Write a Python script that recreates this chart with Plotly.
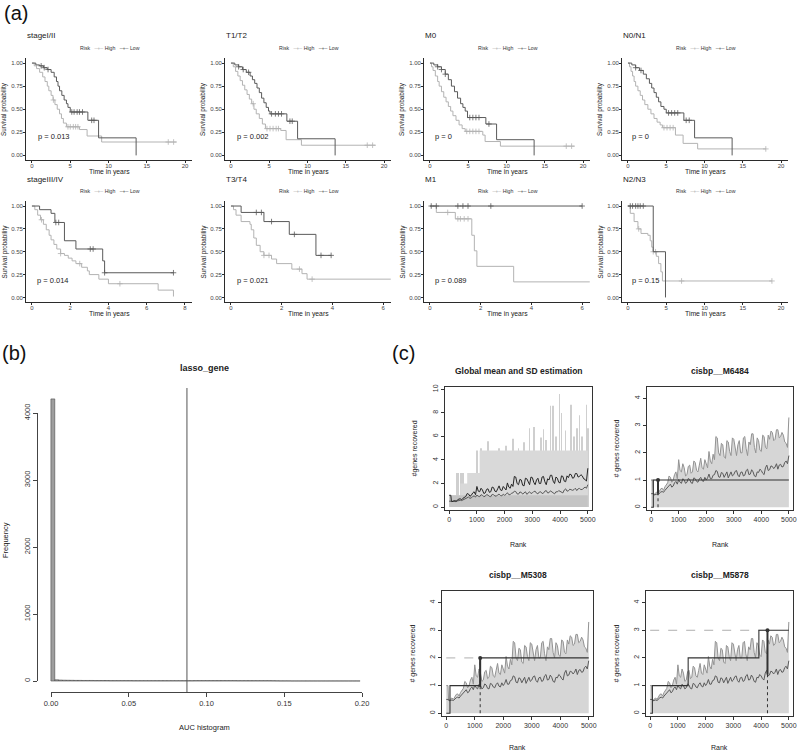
import numpy as np
import plotly.graph_objects as go

W, H = 800, 751
FONT = "Liberation Sans, Arial, Helvetica, sans-serif"
HIGH_C = "#b3b3b3"
LOW_C = "#5a5a5a"
AX_C = "#2b2b2b"

# ------------------------------------------------------------------ (a) KM data
stage12_high_t = [0, 0.3, 0.6, 1.0, 1.4, 1.7, 2.0, 2.2, 2.5, 2.75, 3.0, 3.3, 3.6, 3.85, 4.1, 4.5, 6.2, 7.2, 9.1, 18.9]
stage12_high_s = [1.0, 0.97, 0.94, 0.90, 0.85, 0.80, 0.75, 0.70, 0.65, 0.60, 0.55, 0.50, 0.45, 0.40, 0.35, 0.31, 0.28, 0.21, 0.145, 0.145]
stage12_low_t = [0, 0.5, 1.0, 1.5, 2.0, 2.5, 2.9, 3.2, 3.4, 3.6, 3.9, 4.2, 4.5, 4.7, 5.0, 7.3, 8.7, 13.6]
stage12_low_s = [1.0, 0.98, 0.97, 0.95, 0.93, 0.90, 0.85, 0.80, 0.75, 0.70, 0.65, 0.60, 0.56, 0.52, 0.47, 0.38, 0.19, 0.0]
stage12_high_cens = [2.8, 4.7, 5.0, 5.4, 5.7, 6.0, 17.8, 18.5]
stage12_low_cens = [1.2, 1.6, 2.1, 5.2, 5.5, 5.9, 6.2, 6.6, 7.8, 8.1]

t12_high_t = [0, 0.3, 0.6, 0.9, 1.2, 1.5, 1.8, 2.1, 2.4, 2.7, 3.0, 3.3, 3.7, 4.1, 4.5, 6.5, 7.2, 9.2, 18.9]
t12_high_s = [1.0, 0.96, 0.91, 0.86, 0.81, 0.76, 0.71, 0.66, 0.61, 0.56, 0.50, 0.45, 0.40, 0.34, 0.29, 0.27, 0.17, 0.11, 0.11]
t12_low_t = [0, 0.5, 1.0, 1.5, 2.0, 2.5, 2.8, 3.1, 3.4, 3.7, 4.0, 4.3, 4.6, 4.9, 5.1, 7.3, 8.7, 13.6]
t12_low_s = [1.0, 0.98, 0.96, 0.93, 0.90, 0.86, 0.82, 0.78, 0.73, 0.68, 0.62, 0.57, 0.52, 0.48, 0.45, 0.37, 0.18, 0.0]
t12_high_cens = [2.9, 4.7, 5.1, 5.5, 5.9, 6.2, 17.8, 18.5]
t12_low_cens = [1.0, 1.6, 2.3, 5.3, 5.8, 6.2, 6.6, 7.7, 8.0]

m0_high_t = [0, 0.2, 0.4, 0.7, 1.0, 1.2, 1.5, 1.8, 2.1, 2.4, 2.7, 3.0, 3.4, 3.8, 4.2, 4.6, 6.9, 7.2, 9.2, 18.9]
m0_high_s = [1.0, 0.96, 0.92, 0.86, 0.80, 0.75, 0.69, 0.63, 0.58, 0.53, 0.48, 0.43, 0.38, 0.33, 0.29, 0.26, 0.22, 0.15, 0.10, 0.10]
m0_low_t = [0, 0.5, 1.0, 1.5, 2.0, 2.4, 2.8, 3.2, 3.6, 4.0, 4.3, 4.6, 4.9, 7.3, 8.7, 13.6]
m0_low_s = [1.0, 0.98, 0.96, 0.93, 0.88, 0.82, 0.75, 0.69, 0.62, 0.56, 0.52, 0.48, 0.41, 0.34, 0.17, 0.0]
m0_high_cens = [4.8, 5.2, 5.6, 6.0, 6.4, 17.8, 18.5]
m0_low_cens = [1.0, 1.5, 2.0, 5.2, 5.6, 6.0, 6.4, 7.7]

n01_high_t = [0, 0.2, 0.4, 0.6, 0.8, 1.0, 1.3, 1.6, 1.9, 2.2, 2.6, 3.0, 3.4, 3.8, 4.2, 4.5, 6.2, 7.2, 9.1, 18.0]
n01_high_s = [1.0, 0.96, 0.91, 0.86, 0.80, 0.75, 0.70, 0.65, 0.60, 0.55, 0.50, 0.45, 0.40, 0.36, 0.33, 0.30, 0.22, 0.13, 0.07, 0.07]
n01_low_t = [0, 0.5, 1.0, 1.5, 2.0, 2.4, 2.8, 3.1, 3.4, 3.7, 4.0, 4.3, 4.7, 5.0, 7.3, 8.7, 13.6]
n01_low_s = [1.0, 0.98, 0.95, 0.92, 0.88, 0.83, 0.78, 0.73, 0.68, 0.63, 0.58, 0.53, 0.50, 0.46, 0.38, 0.19, 0.0]
n01_high_cens = [4.7, 5.1, 5.5, 5.9, 18.0]
n01_low_cens = [1.0, 1.7, 5.3, 5.7, 6.1, 6.5, 7.6, 8.0]

s34_high_t = [0, 0.15, 0.3, 0.45, 0.6, 0.75, 0.9, 1.0, 1.15, 1.3, 1.5, 1.7, 1.9, 2.1, 2.3, 2.6, 2.9, 3.0, 3.5, 4.0, 6.6, 7.4]
s34_high_s = [1.0, 0.96, 0.90, 0.85, 0.80, 0.74, 0.68, 0.63, 0.58, 0.53, 0.48, 0.46, 0.43, 0.40, 0.37, 0.33, 0.29, 0.25, 0.20, 0.15, 0.08, 0.01]
s34_low_t = [0, 0.4, 1.0, 1.2, 1.7, 2.3, 3.7, 3.8, 7.4]
s34_low_s = [1.0, 0.96, 0.92, 0.82, 0.62, 0.53, 0.40, 0.27, 0.27]
s34_high_cens = [0.5, 1.5, 2.5, 4.6]
s34_low_cens = [1.25, 1.4, 3.05, 3.2, 3.8, 7.4]

t34_high_t = [0, 0.1, 0.2, 0.4, 0.75, 0.8, 0.9, 1.0, 1.15, 1.3, 1.6, 1.8, 2.4, 2.8, 3.0, 6.3]
t34_high_s = [1.0, 0.96, 0.90, 0.83, 0.80, 0.74, 0.65, 0.57, 0.50, 0.46, 0.42, 0.37, 0.31, 0.26, 0.20, 0.20]
t34_low_t = [0, 0.4, 1.3, 2.3, 3.35, 3.95]
t34_low_s = [1.0, 0.93, 0.83, 0.69, 0.46, 0.46]
t34_high_cens = [1.3, 1.5, 2.7, 3.2]
t34_low_cens = [1.0, 1.2, 1.6, 2.5, 3.55, 3.95]

m1_high_t = [0, 0.25, 1.0, 1.65, 1.75, 1.85, 3.3, 6.3]
m1_high_s = [1.0, 0.93, 0.86, 0.68, 0.51, 0.34, 0.17, 0.17]
m1_low_t = [0, 6.0]
m1_low_s = [1.0, 1.0]
m1_high_cens = [0.7, 1.1, 1.2, 1.35, 1.5]
m1_low_cens = [0.05, 0.25, 1.1, 1.3, 1.5, 2.4, 6.0]

n23_high_t = [0, 0.3, 0.8, 1.3, 1.7, 2.6, 2.9, 3.1, 3.3, 3.7, 4.0, 4.3, 4.5, 18.8]
n23_high_s = [1.0, 0.92, 0.83, 0.75, 0.70, 0.68, 0.62, 0.55, 0.50, 0.45, 0.37, 0.28, 0.18, 0.18]
n23_low_t = [0, 3.3, 4.9]
n23_low_s = [1.0, 0.5, 0.0]
n23_high_cens = [1.4, 3.3, 3.6, 7.0, 18.8]
n23_low_cens = [0.3, 0.6, 1.0, 1.3, 1.6, 2.0]

km_titles = ["stageI/II", "T1/T2", "M0", "N0/N1", "stageIII/IV", "T3/T4", "M1", "N2/N3"]
km_pvalues = ["p = 0.013", "p = 0.002", "p = 0", "p = 0", "p = 0.014", "p = 0.021", "p = 0.089", "p = 0.15"]
surv_ticks = [0, 0.25, 0.5, 0.75, 1.0]
surv_ticklabels = ["0.00", "0.25", "0.50", "0.75", "1.00"]
ticks20 = [0, 5, 10, 15, 20]
ticks8 = [0, 2, 4, 6, 8]
ticks6 = [0, 2, 4, 6]

# ------------------------------------------------------------------ (b) histogram data
auc_bin_width = 0.0025
auc_counts = [4210, 18, 14, 12, 11, 10, 9, 9, 8, 8,
              8, 7, 7, 7, 7, 6, 6, 6, 6, 6,
              6, 5, 5, 5, 5, 5, 5, 5, 5, 5,
              5, 5, 5, 5, 5, 5, 5, 6, 6, 6,
              6, 6, 6, 6, 6, 6, 6, 6, 5, 5,
              5, 5, 5, 5, 5, 5, 5, 4, 3, 2,
              2, 2, 1, 1, 1, 1, 1, 1, 1, 1,
              1, 1, 1, 1, 1, 1, 1, 1, 1, 1]
auc_threshold = 0.088
auc_ticks = [0, 0.05, 0.10, 0.15, 0.20]
auc_ticklabels = ["0.00", "0.05", "0.10", "0.15", "0.20"]
freq_ticks = [0, 1000, 2000, 3000, 4000]

# ------------------------------------------------------------------ (c) recovery curves
rank_pts = [0, 60, 80] + list(range(100, 5000, 50)) + [5000]
mean_sd_curve = [1.0, 1.0, 0.5,
                 0.45, 0.52, 0.55, 0.50, 0.60, 0.68, 0.70, 0.62, 0.75, 0.85,
                 0.90, 1.15, 1.10, 0.92, 1.00, 1.20, 1.30, 1.05, 1.75, 1.35,
                 1.30, 1.60, 1.45, 1.15, 1.20, 1.50, 1.55, 1.25, 1.30, 1.70,
                 1.65, 1.35, 1.30, 1.55, 1.80, 1.45, 1.40, 1.75, 1.60, 1.45,
                 2.05, 1.70, 1.60, 1.95, 1.75, 2.60, 2.55, 2.00, 1.90, 2.35,
                 2.30, 1.85, 1.80, 2.45, 2.40, 2.05, 1.90, 2.55, 2.50, 2.10,
                 1.90, 2.30, 2.45, 2.00, 2.00, 2.55, 2.60, 2.15, 1.90, 2.40,
                 2.30, 2.70, 2.70, 2.20, 2.00, 2.55, 2.45, 2.10, 2.05, 2.65,
                 2.60, 2.20, 2.15, 2.65, 2.50, 2.80, 2.75, 2.45, 2.50, 2.85,
                 2.85, 2.55, 2.60, 2.75, 2.65, 2.40, 2.35, 2.20,
                 3.30]
mean_curve = [0.5, 0.5, 0.5,
              0.45, 0.47, 0.48, 0.46, 0.52, 0.56, 0.58, 0.55, 0.62, 0.68,
              0.72, 0.80, 0.85, 0.74, 0.78, 0.90, 0.95, 0.85, 1.02, 0.92,
              0.88, 1.05, 1.00, 0.88, 0.92, 1.06, 1.02, 0.90, 0.88, 1.08,
              1.05, 0.95, 0.92, 1.04, 1.10, 0.98, 0.95, 1.10, 1.00, 1.08,
              1.22, 1.05, 1.05, 1.18, 1.20, 1.35, 1.32, 1.12, 1.10, 1.28,
              1.25, 1.10, 1.18, 1.30, 1.08, 1.22, 1.30, 1.15, 1.20, 1.32,
              1.35, 1.18, 1.12, 1.28, 1.30, 1.15, 1.18, 1.35, 1.40, 1.20,
              1.22, 1.38, 1.30, 1.15, 1.12, 1.30, 1.28, 1.40, 1.35, 1.25,
              1.20, 1.45, 1.55, 1.35, 1.38, 1.52, 1.50, 1.42, 1.48, 1.60,
              1.40, 1.55, 1.58, 1.48, 1.50, 1.65, 1.70, 1.60,
              1.90]

global_level_rank = [0, 400, 650, 1100, 5000]
global_level_value = [1.0, 2.0, 2.9, 4.8, 4.8]
global_band_rank = [0, 5000]
global_band_value = [1.0, 1.0]
global_spike_rank = [270, 330, 420, 500, 1000, 1150, 1400, 1800, 2050, 2300, 2500, 2700, 2900, 3050,
                     3300, 3400, 3500, 3650, 3750, 3850, 3980, 4050, 4200, 4400, 4500, 4600, 4700,
                     4800, 4950, 5000]
global_spike_height = [2.9, 2.9, 2.9, 2.9, 4.8, 5.0, 5.6, 5.0, 5.2, 5.8, 5.0, 5.5, 6.7, 6.8,
                       5.9, 6.6, 5.7, 8.6, 8.6, 6.0, 9.6, 8.0, 6.5, 8.7, 6.0, 6.7, 7.8,
                       6.0, 8.7, 6.7]

motif_names = ["cisbp__M6484", "cisbp__M5308", "cisbp__M5878"]
m6484_rank = [0, 80, 5000]
m6484_hits = [0, 1, 1]
m5308_rank = [0, 130, 1190, 5000]
m5308_hits = [0, 1, 2, 2]
m5878_rank = [0, 80, 1370, 3920, 5000]
m5878_hits = [0, 1, 2, 3, 3]
motif_best_rank = [250, 1190, 4230]
motif_best_hits = [1, 2, 3]
motif_mean_at_best = [0.5, 0.95, 1.4]

rank_ticks = [0, 1000, 2000, 3000, 4000, 5000]

# ------------------------------------------------------------------ helpers
fig = go.Figure()
axes_layout = {}
annotations = []
shapes = []
counter = {"n": 0}


def add_axes(l, r, t, b, xr, yr, xkw, ykw):
    counter["n"] += 1
    n = counter["n"]
    sx = "" if n == 1 else str(n)
    axes_layout["xaxis" + sx] = dict(domain=[l / W, r / W], range=xr, anchor="y" + sx, **xkw)
    axes_layout["yaxis" + sx] = dict(domain=[1 - b / H, 1 - t / H], range=yr, anchor="x" + sx, **ykw)
    return "x" + sx, "y" + sx


def txt(px, py, s, size, xanchor="center", yanchor="middle", angle=0, color="#222", bold=False):
    if bold:
        s = "<b>" + s + "</b>"
    annotations.append(dict(x=px / W, y=1 - py / H, xref="paper", yref="paper", text=s,
                            showarrow=False, xanchor=xanchor, yanchor=yanchor, textangle=angle,
                            font=dict(size=size, color=color, family=FONT)))


def step_at(ts, ss, t):
    val = ss[0]
    for ti, si in zip(ts, ss):
        if ti <= t:
            val = si
    return val


def km_axis(tickvals, ticktext=None, standoff=-2):
    d = dict(showline=True, linecolor=AX_C, linewidth=0.7, ticks="outside", ticklen=2,
             tickwidth=0.6, tickcolor=AX_C, tickvals=tickvals, ticklabelstandoff=standoff,
             tickfont=dict(size=6, color="#444", family=FONT),
             showgrid=False, zeroline=False, fixedrange=True)
    if ticktext is not None:
        d["ticktext"] = ticktext
    return d


# ------------------------------------------------------------------ (a)
km_data = [
    (stage12_high_t, stage12_high_s, stage12_low_t, stage12_low_s, stage12_high_cens, stage12_low_cens),
    (t12_high_t, t12_high_s, t12_low_t, t12_low_s, t12_high_cens, t12_low_cens),
    (m0_high_t, m0_high_s, m0_low_t, m0_low_s, m0_high_cens, m0_low_cens),
    (n01_high_t, n01_high_s, n01_low_t, n01_low_s, n01_high_cens, n01_low_cens),
    (s34_high_t, s34_high_s, s34_low_t, s34_low_s, s34_high_cens, s34_low_cens),
    (t34_high_t, t34_high_s, t34_low_t, t34_low_s, t34_high_cens, t34_low_cens),
    (m1_high_t, m1_high_s, m1_low_t, m1_low_s, m1_high_cens, m1_low_cens),
    (n23_high_t, n23_high_s, n23_low_t, n23_low_s, n23_high_cens, n23_low_cens),
]
km_xticks = [ticks20, ticks20, ticks20, ticks20, ticks8, ticks6, ticks6, ticks20]
km_xrange = [[-0.78, 20.9]] * 4 + [[-0.31, 8.37], [-0.235, 6.31], [-0.235, 6.31], [-0.78, 20.9]]
km_p_x = [0.5, 0.5, 0.35, 0.3, 0.17, 0.16, 0.1, 0.3]
km_p_y = [0.2, 0.2, 0.2, 0.2, 0.19, 0.19, 0.19, 0.19]
col_left = [26, 225, 424, 622]
rows = [(58, 160, 36, 48, 172), (201, 302, 180, 191, 314)]

for i in range(8):
    r, c = divmod(i, 4)
    top, bot, ty, ly, xty = rows[r]
    L = col_left[c]
    xr, yr = add_axes(L, L + 166, top, bot, km_xrange[i], [-0.05, 1.055],
                      km_axis(km_xticks[i], standoff=-2), km_axis(surv_ticks, surv_ticklabels, standoff=-1))
    ht, hs, lt, ls, hc, lc = km_data[i]
    for tt, ss, cc, col in [(ht, hs, hc, HIGH_C), (lt, ls, lc, LOW_C)]:
        fig.add_trace(go.Scatter(x=tt, y=ss, mode="lines", line=dict(shape="hv", color=col, width=1),
                                 xaxis=xr, yaxis=yr, hoverinfo="skip", showlegend=False))
        fig.add_trace(go.Scatter(x=cc, y=[step_at(tt, ss, t) for t in cc], mode="markers",
                                 marker=dict(symbol="cross-thin", size=4, color=col, line=dict(color=col, width=0.8)),
                                 xaxis=xr, yaxis=yr, hoverinfo="skip", showlegend=False))
    annotations.append(dict(x=km_p_x[i], y=km_p_y[i], xref=xr, yref=yr, text=km_pvalues[i],
                            showarrow=False, xanchor="left", yanchor="middle",
                            font=dict(size=7.5, color="#222", family=FONT)))
    txt(L - 1, ty, km_titles[i], 8, xanchor="left")
    txt(L + 84, ly, "Risk   <span style='color:%s'>–+–</span> High   <span style='color:%s'>–+–</span> Low"
        % (HIGH_C, LOW_C), 5.2, color="#333")
    txt(L - 22, (top + bot) / 2, "Survival probability", 6.3, angle=-90)
    txt(L + 83, xty, "Time in years", 6.8)

txt(2, 0, "(a)", 20, xanchor="left", yanchor="top", color="#111")

# ------------------------------------------------------------------ (b)
b_off = dict(visible=False, showgrid=False, zeroline=False, fixedrange=True)
xb, yb = add_axes(37, 374, 388, 692, [-0.009, 0.209], [-164, 4373], b_off, b_off)
auc_left = np.arange(len(auc_counts)) * auc_bin_width
fig.add_trace(go.Bar(x=auc_left, y=auc_counts, width=auc_bin_width, offset=0,
                     marker=dict(color="#9e9e9e", line=dict(color="#4a4a4a", width=0.6)),
                     xaxis=xb, yaxis=yb, hoverinfo="skip", showlegend=False))
shapes.append(dict(type="line", xref=xb, yref=yb + " domain", x0=auc_threshold, x1=auc_threshold,
                   y0=0, y1=1, line=dict(color="#555", width=1)))
# R-style axes (span first..last tick)
counter["n"] += 1
n = counter["n"]
axes_layout["xaxis%d" % n] = dict(domain=[51 / W, 362 / W], range=[0, 0.2], anchor="free",
                                  position=1 - 692 / H, showline=True, linecolor="#444", linewidth=0.8,
                                  ticks="outside", ticklen=4, tickwidth=0.8, tickcolor="#444",
                                  tickvals=auc_ticks, ticktext=auc_ticklabels,
                                  tickfont=dict(size=7.5, color="#333", family=FONT),
                                  showgrid=False, zeroline=False, fixedrange=True)
axes_layout["yaxis%d" % n] = dict(domain=[1 - 681 / H, 1 - 413 / H], range=[0, 4000], anchor="free",
                                  position=37 / W, showline=True, linecolor="#444", linewidth=0.8,
                                  ticks="outside", ticklen=4, tickwidth=0.8, tickcolor="#444",
                                  tickvals=freq_ticks, tickangle=-90,
                                  tickfont=dict(size=7.5, color="#333", family=FONT),
                                  showgrid=False, zeroline=False, fixedrange=True)
fig.add_trace(go.Scatter(x=[None], y=[None], xaxis="x%d" % n, yaxis="y%d" % n,
                         hoverinfo="skip", showlegend=False))
txt(205, 368, "lasso_gene", 9, bold=True)
txt(5, 540, "Frequency", 7.5, angle=-90)
txt(205, 727, "AUC histogram", 7.5)
txt(0, 340, "(b)", 20, xanchor="left", yanchor="top", color="#111")

# ------------------------------------------------------------------ (c)
def c_axis(tickvals, angle=0):
    return dict(showline=True, mirror=True, linecolor="#333", linewidth=0.9, ticks="outside",
                ticklen=3, tickwidth=0.8, tickcolor="#333", tickvals=tickvals, tickangle=angle,
                tickfont=dict(size=7, color="#333", family=FONT),
                showgrid=False, zeroline=False, fixedrange=True)


c_boxes = [(445, 592, 387, 510), (647, 793, 387, 510), (442, 593, 591, 716), (646, 793, 591, 716)]
c_titles = ["Global mean and SD estimation"] + motif_names
c_ylabels = ["#genes recovered", "# genes recovered", "# genes recovered", "# genes recovered"]

# plot 1: global
l, r_, t, b = c_boxes[0]
xc, yc = add_axes(l, r_, t, b, [-150, 5150], [-0.25, 10.2], c_axis(rank_ticks), c_axis([0, 2, 4, 6, 8, 10], -90))
fig.add_trace(go.Scatter(x=global_level_rank, y=global_level_value, mode="lines",
                         line=dict(shape="hv", width=0, color="#d9d9d9"), fill="tozeroy",
                         fillcolor="#d9d9d9", xaxis=xc, yaxis=yc, hoverinfo="skip", showlegend=False))
fig.add_trace(go.Bar(x=global_spike_rank, y=global_spike_height, width=25,
                     marker=dict(color="#cfcfcf", line=dict(width=0)),
                     xaxis=xc, yaxis=yc, hoverinfo="skip", showlegend=False))
fig.add_trace(go.Scatter(x=global_band_rank, y=global_band_value, mode="lines",
                         line=dict(width=0, color="#c4c4c4"), fill="tozeroy", fillcolor="#c4c4c4",
                         xaxis=xc, yaxis=yc, hoverinfo="skip", showlegend=False))
fig.add_trace(go.Scatter(x=rank_pts, y=mean_curve, mode="lines", line=dict(color="#5a5a5a", width=1),
                         xaxis=xc, yaxis=yc, hoverinfo="skip", showlegend=False))
fig.add_trace(go.Scatter(x=rank_pts, y=mean_sd_curve, mode="lines", line=dict(color="#262626", width=1),
                         xaxis=xc, yaxis=yc, hoverinfo="skip", showlegend=False))

motif_steps = [(m6484_rank, m6484_hits), (m5308_rank, m5308_hits), (m5878_rank, m5878_hits)]
for k in range(3):
    l, r_, t, b = c_boxes[k + 1]
    xc, yc = add_axes(l, r_, t, b, [-150, 5150], [-0.1, 4.42], c_axis(rank_ticks), c_axis([0, 1, 2, 3, 4], -90))
    fig.add_trace(go.Scatter(x=rank_pts, y=mean_sd_curve, mode="lines", line=dict(color="#939393", width=1),
                             fill="tozeroy", fillcolor="#d6d6d6",
                             xaxis=xc, yaxis=yc, hoverinfo="skip", showlegend=False))
    fig.add_trace(go.Scatter(x=rank_pts, y=mean_curve, mode="lines", line=dict(color="#5a5a5a", width=1),
                             xaxis=xc, yaxis=yc, hoverinfo="skip", showlegend=False))
    br, bh, bm = motif_best_rank[k], motif_best_hits[k], motif_mean_at_best[k]
    fig.add_trace(go.Scatter(x=[0, br], y=[bh, bh], mode="lines", line=dict(color="#9a9a9a", width=0.8, dash="dash"),
                             xaxis=xc, yaxis=yc, hoverinfo="skip", showlegend=False))
    sr, sh = motif_steps[k]
    fig.add_trace(go.Scatter(x=sr, y=sh, mode="lines", line=dict(shape="hv", color="#333333", width=1.1),
                             xaxis=xc, yaxis=yc, hoverinfo="skip", showlegend=False))
    fig.add_trace(go.Scatter(x=[br, br], y=[0, bh], mode="lines", line=dict(color="#333", width=1, dash="dot"),
                             xaxis=xc, yaxis=yc, hoverinfo="skip", showlegend=False))
    fig.add_trace(go.Scatter(x=[br, br], y=[bm, bh], mode="lines", line=dict(color="#333", width=2),
                             xaxis=xc, yaxis=yc, hoverinfo="skip", showlegend=False))
    fig.add_trace(go.Scatter(x=[br], y=[bh], mode="markers", marker=dict(color="#333", size=4),
                             xaxis=xc, yaxis=yc, hoverinfo="skip", showlegend=False))

for k in range(4):
    l, r_, t, b = c_boxes[k]
    txt((l + r_) / 2, t - 16, c_titles[k], 8.5, bold=True)
    txt(l - 30, (t + b) / 2, c_ylabels[k], 7, angle=-90)
    txt((l + r_) / 2, b + 34 if k < 2 else b + 31, "Rank", 7)
txt(390, 340, "(c)", 20, xanchor="left", yanchor="top", color="#111")

fig.update_layout(width=W, height=H, margin=dict(l=0, r=0, t=0, b=0),
                  paper_bgcolor="white", plot_bgcolor="rgba(0,0,0,0)", showlegend=False,
                  template="none", annotations=annotations, shapes=shapes,
                  font=dict(family=FONT), barmode="overlay", **axes_layout)
fig.write_html("out.html", config={"displayModeBar": False},
               post_script="document.body.style.margin='0';document.body.style.overflow='hidden';")
